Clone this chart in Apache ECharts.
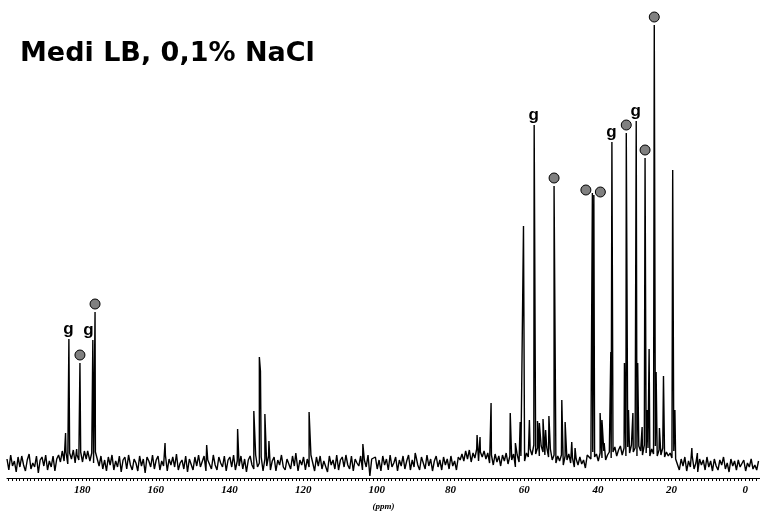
<!DOCTYPE html>
<html><head><meta charset="utf-8">
<script src="https://cdn.jsdelivr.net/npm/echarts@6/dist/echarts.min.js"></script>
<style>html,body{margin:0;padding:0;background:#fff}#c{width:760px;height:512px}</style>
</head><body><div id="c"></div>
<script>
// ---- data ----
const titleText = 'Medi LB, 0,1% NaCl';
const axisName = '(ppm)';
const tickLabels = [180, 160, 140, 120, 100, 80, 60, 40, 20, 0];
const ppmStart = 200.4;
const ppmEnd = -4;
const noiseStep = 0.5;
// baseline noise (one value per 0.5 ppm, from 200.4 ppm down)
const noiseValues = [
  4,-7,8,-3,2,-9,6,-4,7,-2,-8,3,9,-6,0,-4,7,-10,3,6,
  -3,8,-7,2,-4,7,-8,4,8,1,12,2,11,-1,10,4,13,0,8,3,
  11,1,12,4,14,2,10,0,11,4,-3,7,-6,3,-8,6,-2,8,-7,2,
  -4,7,-9,3,6,-6,8,-2,-7,4,0,-8,7,-3,4,-10,6,2,-4,8,
  -6,3,7,-7,2,-3,8,-8,4,-2,6,-4,9,-7,0,3,-6,7,-9,4,
  2,-7,6,-3,8,-4,-2,7,-8,3,4,-6,8,-2,-7,6,0,-4,7,-8,
  3,6,-4,8,-7,2,-3,7,-6,4,-9,3,7,-2,-6,8,-4,0,6,-8,
  4,-3,7,-7,2,6,-8,3,-2,8,-4,-7,4,2,-6,7,-3,9,-8,3,
  -2,6,-7,4,-4,8,0,-8,6,-3,7,-6,2,4,-9,7,-2,3,-6,8,
  -7,3,6,-4,8,-2,-6,7,-8,4,0,-3,7,-7,3,-4,8,-13,4,2,
  6,-6,3,-8,7,-2,4,-7,8,-4,0,6,-8,3,-3,7,-6,2,8,-7,
  3,-4,7,-2,-7,6,0,-6,8,-3,4,-8,2,7,-4,3,-7,6,-2,4,
  -6,7,-3,2,-7,6,3,9,2,12,4,13,1,10,5,14,2,11,6,12,
  4,10,0,8,-2,9,1,7,-3,8,2,10,-1,7,3,9,-4,8,1,7,
  9,2,10,6,14,8,18,9,15,7,17,11,8,16,6,14,3,8,0,7,
  2,8,-2,7,3,9,0,5,-4,4,-2,6,-1,3,-5,8,10,4,11,6,
  9,2,10,5,12,3,8,11,5,11,16,7,13,17,8,15,7,16,10,18,
  11,15,7,17,12,8,18,10,15,7,14,9,17,7,13,8,15,6,11,7,
  10,5,12,4,2,-7,4,-3,6,-8,2,-4,7,-6,0,-9,4,-2,3,-7,
  6,-4,2,-8,4,-3,-7,3,-2,6,-6,0,-9,4,-3,2,-7,3,-4,-2,
  3,-8,0,-4,4,-6,-2,-7,2
];
const peakPpm = [
  184.5, 183.6, 181.5, 180.6, 178.5, 177.1, 176.5,
  157.5, 146.2, 137.8, 133.4, 131.9, 131.6, 130.4, 129.3, 122.0, 118.4, 103.8, 89.6,
  72.8, 72.0, 69.0, 63.8, 62.4, 61.1, 60.2, 58.6, 57.3, 56.4, 55.9, 54.9, 54.2, 53.3,
  51.9, 49.8, 48.9, 47.1, 46.2, 41.8, 41.5, 41.1, 39.4, 38.9, 38.3, 36.5, 36.2,
  32.8, 32.3, 31.7, 30.5, 29.6, 29.2, 28.0, 27.2, 26.6, 26.1, 24.7, 24.2, 23.3, 22.2,
  19.7, 19.1, 14.5, 13.0
];
const peakHeight = [
  30, 124, 14, 100, 12, 123, 151,
  20, 18, 34, 52, 106, 92, 49, 22, 10, 51, 19, 10,
  28, 26, 60, 50, 20, 41, 237, 43, 338, 42, 40, 44, 33, 47,
  277, 63, 41, 21, 15, 81, 270, 268, 50, 43, 20, 111, 321,
  100, 330, 53, 50, 342, 100, 36, 305, 53, 114, 438, 91, 35, 87,
  293, 53, 15, 10
];
const circlePeaks = [180.6, 176.5, 51.9, 41.5, 41.1, 32.3, 27.2, 24.7];
const gPeaks = [183.6, 177.1, 57.3, 36.2, 29.6];

// ---- build ----
const heightOf = p => peakHeight[peakPpm.indexOf(p)];
const spectrum = noiseValues.map((v, i) => [+(ppmStart - i * noiseStep).toFixed(2), v])
  .concat(peakPpm.map((p, i) => [p, peakHeight[i]]))
  .sort((a, b) => b[0] - a[0]);
const minorTicks = [];
for (let t = -4; t <= 200; t++) minorTicks.push(t);

const circleOffsets = {41.5: [-6.5, -3], 41.1: [6.5, -3]};
const circleData = circlePeaks.map(p => ({
  value: [p, heightOf(p)],
  symbolOffset: circleOffsets[p] || [0, -8]
}));
const gOffsets = {177.1: [-4.5, -10]};
const gData = gPeaks.map(p => ({
  value: [p, heightOf(p)],
  label: {offset: gOffsets[p] || [-0.5, -10]}
}));

const chart = echarts.init(document.getElementById('c'), null, {renderer: 'canvas'});
chart.setOption({
  animation: false,
  backgroundColor: '#fff',
  grid: {left: 7, right: 0, top: 21, bottom: 34, containLabel: false, outerBoundsMode: 'none'},
  graphic: [{
    type: 'text', left: 20, top: 40,
    style: {text: titleText, fill: '#000', font: 'bold 27px "DejaVu Sans"'}
  }],
  xAxis: {
    type: 'value', inverse: true, min: ppmEnd, max: ppmStart,
    axisLine: {show: true, onZero: false, lineStyle: {color: '#000', width: 1}},
    axisTick: {show: true, customValues: minorTicks, length: 3, lineStyle: {color: '#000', width: 1}},
    axisLabel: {customValues: tickLabels, margin: 7, color: '#000',
      fontFamily: 'Liberation Serif', fontStyle: 'italic', fontWeight: 'bold', fontSize: 11},
    splitLine: {show: false},
    name: axisName, nameLocation: 'middle', nameGap: 24,
    nameTextStyle: {color: '#000', fontFamily: 'Liberation Serif', fontStyle: 'italic', fontWeight: 'bold', fontSize: 9}
  },
  yAxis: {type: 'value', min: -15, max: 442, show: false},
  series: [
    {
      type: 'line', data: spectrum, showSymbol: false, symbol: 'none',
      lineStyle: {color: '#000', width: 1.4, join: 'bevel'}, z: 2
    },
    {
      type: 'scatter', data: circleData, symbol: 'circle', symbolSize: 10, clip: false,
      itemStyle: {color: '#808080', borderColor: '#000', borderWidth: 1, opacity: 1}, z: 3
    },
    {
      type: 'scatter', data: gData, symbol: 'circle', symbolSize: 1, clip: false,
      itemStyle: {color: 'rgba(0,0,0,0)', opacity: 1},
      label: {show: true, formatter: 'g', position: 'inside', color: '#000', opacity: 1,
        fontFamily: 'Liberation Sans', fontWeight: 'bold', fontSize: 17, verticalAlign: 'middle'},
      z: 3
    }
  ]
});
</script>
</body></html>
